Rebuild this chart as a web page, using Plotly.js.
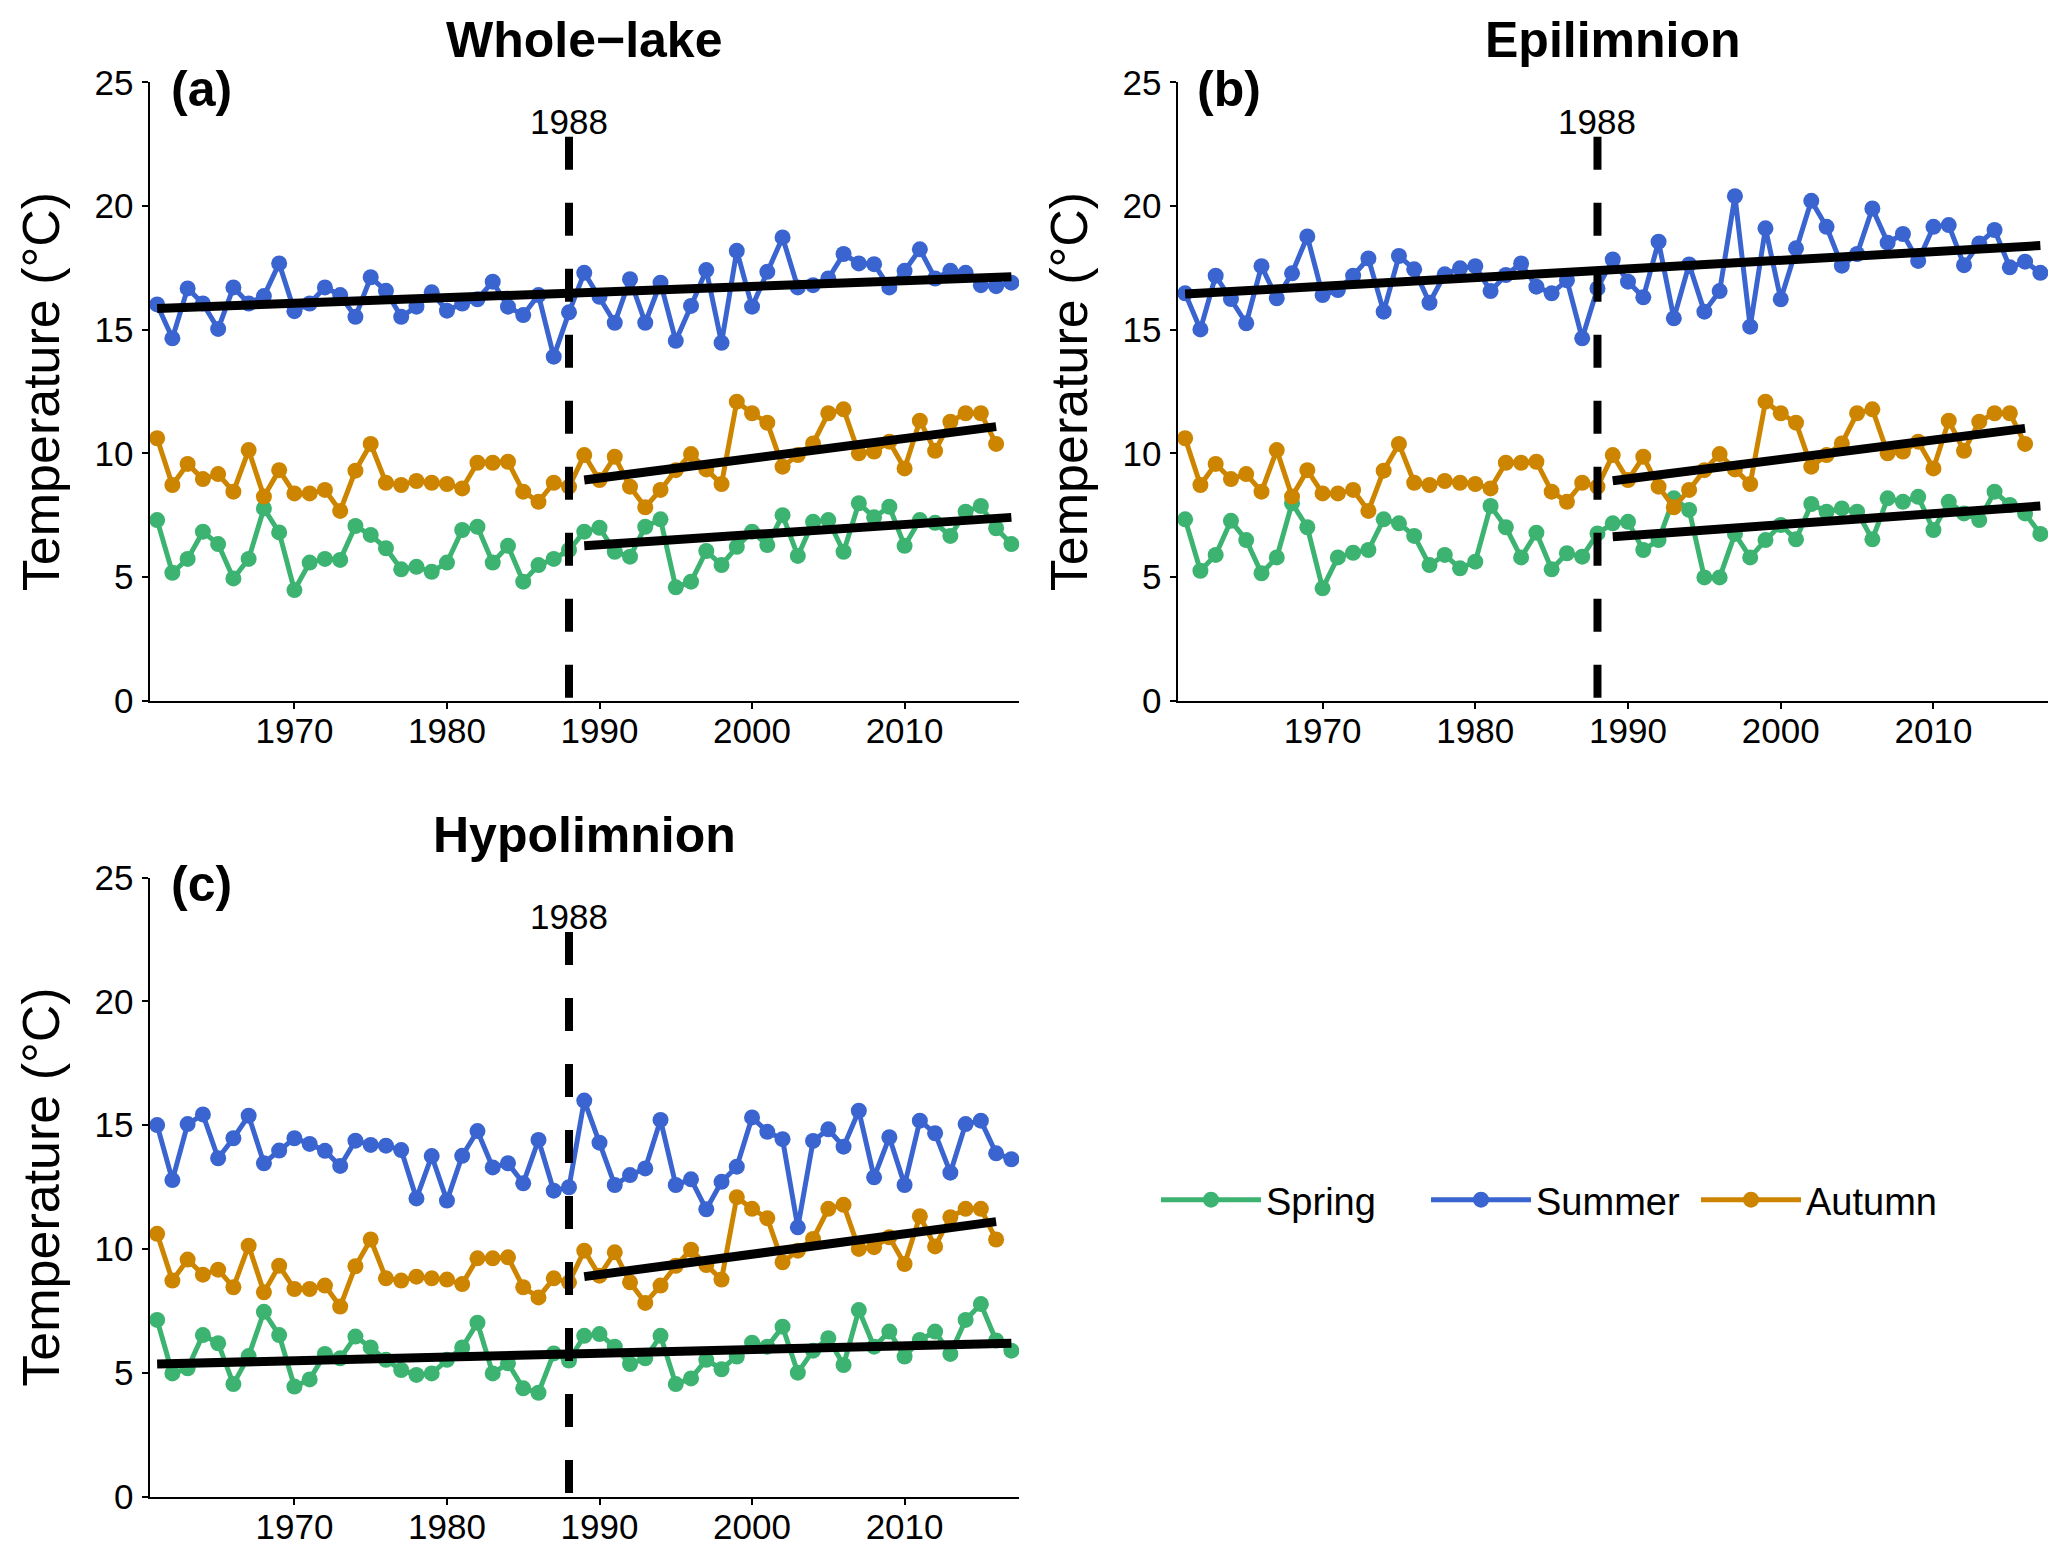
<!DOCTYPE html>
<html>
<head>
<meta charset="utf-8">
<script src="https://cdn.plot.ly/plotly-3.0.1.min.js"></script>
<style>html,body{margin:0;padding:0;background:#fff;}#chart{width:2067px;height:1558px;}</style>
</head>
<body>
<div id="chart"></div>
<script>
// ---------- data ----------
const years = [1961,1962,1963,1964,1965,1966,1967,1968,1969,1970,
  1971,1972,1973,1974,1975,1976,1977,1978,1979,1980,
  1981,1982,1983,1984,1985,1986,1987,1988,1989,1990,
  1991,1992,1993,1994,1995,1996,1997,1998,1999,2000,
  2001,2002,2003,2004,2005,2006,2007,2008,2009,2010,
  2011,2012,2013,2014,2015,2016,2017];
const autumnYears = years.slice(0, 56); // 1961-2016

const summerWhole = [16.02,14.65,16.67,16.06,15.03,16.71,16.06,16.36,17.68,15.75,
  16.06,16.71,16.40,15.52,17.12,16.57,15.52,15.93,16.51,15.77,
  16.06,16.23,16.94,15.93,15.59,16.40,13.91,15.70,17.30,16.33,
  15.28,17.04,15.28,16.90,14.55,15.96,17.41,14.47,18.19,15.93,
  17.34,18.73,16.71,16.80,17.07,18.06,17.68,17.65,16.71,17.38,
  18.25,17.07,17.38,17.30,16.80,16.76,16.90];
const springWhole = [7.30,5.17,5.73,6.83,6.33,4.94,5.73,7.77,6.80,4.47,
  5.58,5.73,5.69,7.06,6.70,6.16,5.31,5.41,5.21,5.58,
  6.90,7.03,5.58,6.26,4.81,5.48,5.73,6.09,6.83,6.99,
  6.02,5.82,7.03,7.33,4.58,4.81,6.05,5.48,6.22,6.83,
  6.29,7.50,5.85,7.23,7.30,6.02,7.98,7.41,7.84,6.26,
  7.30,7.19,6.66,7.64,7.87,6.97,6.33];
const autumnAll = [10.61,8.72,9.57,8.96,9.16,8.45,10.13,8.25,9.32,8.38,
  8.38,8.52,7.67,9.30,10.38,8.81,8.72,8.88,8.81,8.76,
  8.58,9.62,9.62,9.66,8.45,8.04,8.81,8.65,9.93,8.92,
  9.86,8.65,7.82,8.52,9.32,9.97,9.35,8.76,12.09,11.62,
  11.24,9.46,9.93,10.40,11.62,11.78,10.00,10.07,10.47,9.39,
  11.32,10.10,11.28,11.62,11.62,10.38];

const summerEpi = [16.47,15.01,17.18,16.24,15.26,17.57,16.27,17.28,18.77,16.40,
  16.60,17.18,17.88,15.73,17.98,17.44,16.09,17.24,17.48,17.57,
  16.56,17.21,17.68,16.74,16.47,17.00,14.65,16.67,17.84,16.94,
  16.31,18.56,15.46,17.64,15.73,16.56,20.40,15.12,19.10,16.23,
  18.29,20.21,19.16,17.59,18.06,19.90,18.52,18.87,17.78,19.16,
  19.23,17.61,18.49,19.03,17.52,17.75,17.30];
const springEpi = [7.33,5.25,5.89,7.27,6.49,5.15,5.79,7.98,7.01,4.54,
  5.79,5.98,6.09,7.33,7.17,6.66,5.48,5.89,5.35,5.62,
  7.87,7.01,5.79,6.79,5.31,5.96,5.82,6.76,7.17,7.23,
  6.09,6.49,8.18,7.71,4.98,4.98,6.74,5.79,6.49,7.10,
  6.52,7.95,7.64,7.77,7.64,6.52,8.18,8.04,8.24,6.90,
  8.04,7.57,7.30,8.45,7.91,7.57,6.74];

const summerHypo = [15.00,12.78,15.04,15.43,13.66,14.47,15.38,13.46,13.97,14.47,
  14.24,13.96,13.35,14.37,14.20,14.17,13.99,12.04,13.75,11.95,
  13.76,14.76,13.29,13.46,12.65,14.40,12.35,12.49,15.99,14.29,
  12.58,12.98,13.25,15.21,12.58,12.81,11.60,12.71,13.32,15.31,
  14.73,14.43,10.87,14.36,14.83,14.13,15.58,12.89,14.51,12.58,
  15.18,14.67,13.08,15.04,15.18,13.86,13.62];
const springHypo = [7.13,4.97,5.18,6.52,6.19,4.54,5.67,7.46,6.52,4.44,
  4.73,5.76,5.58,6.46,6.02,5.52,5.11,4.91,4.97,5.52,
  6.02,7.02,4.97,5.38,4.37,4.19,5.78,5.49,6.49,6.56,
  6.05,5.35,5.58,6.49,4.54,4.77,5.52,5.14,5.65,6.21,
  6.05,6.86,5.00,5.89,6.39,5.31,7.53,6.05,6.66,5.65,
  6.32,6.66,5.76,7.13,7.77,6.30,5.89];

// trend lines: [startYear, endYear], [startValue, endValue]
const trendWholeSummer = [[1961, 2017], [15.86, 17.14]];
const trendWholeAutumn = [[1989, 2016], [8.92, 11.08]];
const trendWholeSpring = [[1989, 2017], [6.26, 7.41]];
const trendEpiSummer   = [[1961, 2017], [16.44, 18.40]];
const trendEpiAutumn   = [[1989, 2016], [8.89, 11.01]];
const trendEpiSpring   = [[1989, 2017], [6.63, 7.87]];
const trendHypoAutumn  = [[1989, 2016], [8.88, 11.10]];
const trendHypoSpring  = [[1961, 2017], [5.35, 6.19]];

const breakYear = 1988;
const breakTop = 22.8;
const yTicks = [0, 5, 10, 15, 20, 25];
const xTicks = [1970, 1980, 1990, 2000, 2010];
const panelTitles = ['Whole\u2212lake', 'Epilimnion', 'Hypolimnion'];
const panelTags = ['(a)', '(b)', '(c)'];

// ---------- style ----------
const COL = {Spring: '#3CB371', Summer: '#3A64CF', Autumn: '#CD8500'};
const FONT = 'Liberation Sans, Arial, Helvetica, sans-serif';

const traces = [];
function series(name, x, y, ax, show) {
  traces.push({
    type: 'scatter', mode: 'lines+markers', name: name, x: x, y: y,
    xaxis: 'x' + ax, yaxis: 'y' + ax,
    line: {color: COL[name], width: 5},
    marker: {color: COL[name], size: 16},
    showlegend: show, legendgroup: name
  });
}
function trend(t, ax) {
  traces.push({
    type: 'scatter', mode: 'lines', x: t[0], y: t[1],
    xaxis: 'x' + ax, yaxis: 'y' + ax,
    line: {color: '#000', width: 9}, showlegend: false, hoverinfo: 'skip'
  });
}
// panel a
series('Spring', years, springWhole, '', true);
series('Summer', years, summerWhole, '', true);
series('Autumn', autumnYears, autumnAll, '', true);
// panel b
series('Spring', years, springEpi, '2', false);
series('Summer', years, summerEpi, '2', false);
series('Autumn', autumnYears, autumnAll, '2', false);
// panel c
series('Spring', years, springHypo, '3', false);
series('Summer', years, summerHypo, '3', false);
series('Autumn', autumnYears, autumnAll, '3', false);

trend(trendWholeSummer, ''); trend(trendWholeAutumn, ''); trend(trendWholeSpring, '');
trend(trendEpiSummer, '2'); trend(trendEpiAutumn, '2'); trend(trendEpiSpring, '2');
trend(trendHypoAutumn, '3'); trend(trendHypoSpring, '3');

const W = 2067, H = 1558;
const colA = [149.5 / W, 1019 / W];
const colB = [1177.5 / W, 2048 / W];
const row1 = [1 - 700.6 / H, 1 - 82.4 / H];
const row2 = [1 - 1496.5 / H, 1 - 877.5 / H];

function xax(dom, anchor) {
  return {
    domain: dom, anchor: anchor, range: [1960.5, 2017.5],
    tickvals: xTicks, ticktext: xTicks.map(String),
    showline: true, linecolor: '#000', linewidth: 2,
    ticks: 'outside', ticklen: 6, tickwidth: 2, tickcolor: '#000',
    showgrid: false, zeroline: false,
    tickfont: {family: FONT, size: 35, color: '#000'},
    ticklabelstandoff: -8
  };
}
function yax(dom, anchor) {
  return {
    domain: dom, anchor: anchor, range: [0, 25],
    tickvals: yTicks, ticktext: yTicks.map(String),
    showline: true, linecolor: '#000', linewidth: 2,
    ticks: 'outside', ticklen: 6, tickwidth: 2, tickcolor: '#000',
    showgrid: false, zeroline: false,
    tickfont: {family: FONT, size: 35, color: '#000'},
    ticklabelstandoff: 1,
    title: {text: 'Temperature (\u00B0C)', font: {family: FONT, size: 52, color: '#000'}, standoff: 18}
  };
}

const annotations = [];
const shapes = [];
const axPairs = [['x', 'y'], ['x2', 'y2'], ['x3', 'y3']];
axPairs.forEach(function (p, i) {
  annotations.push({
    xref: p[0] + ' domain', yref: p[1] + ' domain', x: 0.5, y: 1.0686,
    text: '<b>' + panelTitles[i] + '</b>', showarrow: false,
    xanchor: 'center', yanchor: 'middle',
    font: {family: FONT, size: 50, color: '#000'}
  });
  annotations.push({
    xref: p[0], yref: p[1], x: 1963.9, y: 24.73,
    text: '<b>' + panelTags[i] + '</b>', showarrow: false,
    xanchor: 'center', yanchor: 'middle',
    font: {family: FONT, size: 50, color: '#000'}
  });
  annotations.push({
    xref: p[0], yref: p[1], x: breakYear, y: breakTop - 0.25,
    text: String(breakYear), showarrow: false,
    xanchor: 'center', yanchor: 'bottom',
    font: {family: FONT, size: 35, color: '#000'}
  });
  shapes.push({
    type: 'line', xref: p[0], yref: p[1],
    x0: breakYear, x1: breakYear, y0: breakTop, y1: 0,
    line: {color: '#000', width: 8, dash: '33px,33px'}, layer: 'above'
  });
});

const layout = {
  width: W, height: H,
  margin: {l: 0, r: 0, t: 0, b: 0, autoexpand: false},
  paper_bgcolor: '#fff', plot_bgcolor: '#fff',
  font: {family: FONT, color: '#000'},
  xaxis: xax(colA, 'y'), yaxis: yax(row1, 'x'),
  xaxis2: xax(colB, 'y2'), yaxis2: yax(row1, 'x2'),
  xaxis3: xax(colA, 'y3'), yaxis3: yax(row2, 'x3'),
  showlegend: true,
  legend: {
    orientation: 'h', x: 1156 / W, y: 1 - 1200 / H, xanchor: 'left', yanchor: 'middle',
    font: {family: FONT, size: 38, color: '#000'}, itemwidth: 100,
    entrywidth: 155, entrywidthmode: 'pixels',
    bgcolor: 'rgba(0,0,0,0)', traceorder: 'normal'
  },
  annotations: annotations,
  shapes: shapes
};

Plotly.newPlot('chart', traces, layout, {staticPlot: true, displayModeBar: false});
</script>
</body>
</html>
